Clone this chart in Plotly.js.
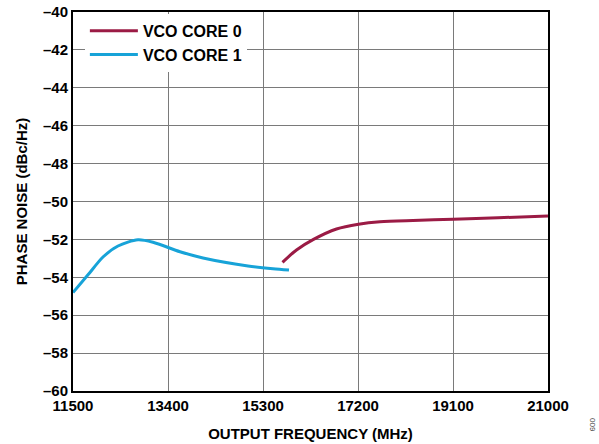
<!DOCTYPE html>
<html><head><meta charset="utf-8">
<script src="https://cdn.plot.ly/plotly-3.0.1.min.js"></script>
<style>body{margin:0;background:#fff}#c{width:599px;height:444px}</style>
</head><body><div id="c"></div>
<script>
const core0Freq = [15690, 15970, 16310, 16770, 17210, 17640, 18300, 19100, 20000, 21000];
const core0Noise = [-53.21, -52.56, -52.0, -51.45, -51.2, -51.07, -51.0, -50.94, -50.86, -50.76];
const core1Freq = [11500, 11800, 12100, 12400, 12800, 13100, 13640, 14100, 15000, 15500, 15820];
const core1Noise = [-54.8, -53.87, -52.93, -52.35, -52.02, -52.15, -52.65, -52.98, -53.4, -53.55, -53.62];
const xTicks = [11500, 13400, 15300, 17200, 19100, 21000];
const yTicks = [-40, -42, -44, -46, -48, -50, -52, -54, -56, -58, -60];
const yTickText = yTicks.map(v => '\u2013' + Math.abs(v));

const fam = 'Liberation Sans, Arial, sans-serif';
const traces = [
  {x: core0Freq, y: core0Noise, mode: 'lines', name: 'VCO CORE 0', line: {color: '#9b1b45', width: 3, shape: 'spline', smoothing: 0.8}},
  {x: core1Freq, y: core1Noise, mode: 'lines', name: 'VCO CORE 1', line: {color: '#17a3d8', width: 3, shape: 'spline', smoothing: 0.8}}
];
const layout = {
  width: 599, height: 444,
  margin: {l: 73, r: 51, t: 12, b: 53},
  paper_bgcolor: '#fff', plot_bgcolor: '#fff',
  font: {family: fam, size: 15, color: '#000'},
  showlegend: true,
  legend: {x: 0.025, y: 0.995, xanchor: 'left', yanchor: 'top', bgcolor: '#fff', borderwidth: 0,
           font: {family: fam, size: 16, color: '#000', weight: 'bold'}, itemwidth: 48, tracegroupgap: 0},
  xaxis: {range: [11500, 21000], tickvals: xTicks, ticktext: xTicks.map(String),
          showgrid: true, gridcolor: '#7a7a7a', gridwidth: 1, zeroline: false,
          showline: true, linecolor: '#000', linewidth: 2, mirror: true, ticks: '',
          tickfont: {family: fam, size: 15, weight: 'bold'},
          title: {text: 'OUTPUT FREQUENCY (MHz)', font: {family: fam, size: 15, weight: 'bold'}, standoff: 15}},
  yaxis: {range: [-60, -40], tickvals: yTicks, ticktext: yTickText,
          showgrid: true, gridcolor: '#7a7a7a', gridwidth: 1, zeroline: false,
          showline: true, linecolor: '#000', linewidth: 2, mirror: true, ticks: '',
          tickfont: {family: fam, size: 15, weight: 'bold'},
          title: {text: 'PHASE NOISE (dBc/Hz)', font: {family: fam, size: 15, weight: 'bold'}, standoff: 12}},
  annotations: [{text: '009', xref: 'paper', yref: 'paper', x: 1.095, y: -0.09, xanchor: 'center', yanchor: 'middle',
                 showarrow: false, textangle: 90, font: {family: fam, size: 8, color: '#444'}}]
};
Plotly.newPlot('c', traces, layout, {displayModeBar: false, staticPlot: true});
</script></body></html>
